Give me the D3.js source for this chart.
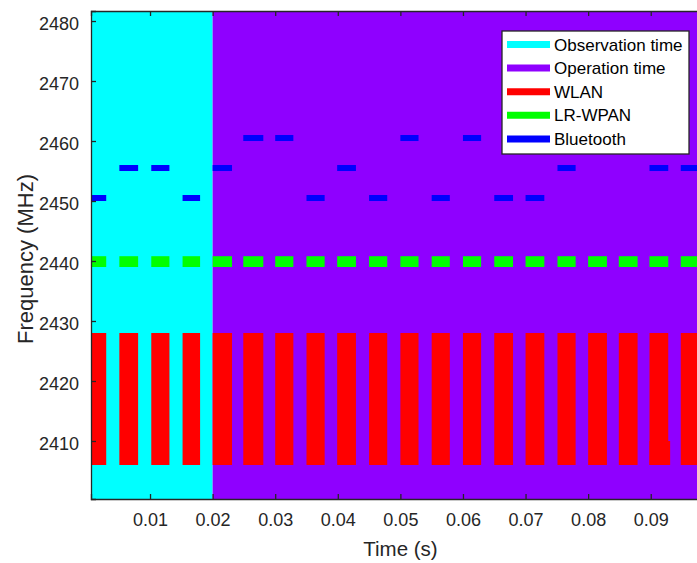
<!DOCTYPE html>
<html>
<head>
<meta charset="utf-8">
<script src="https://cdn.jsdelivr.net/npm/d3@7"></script>
<style>
  html, body { margin: 0; padding: 0; background: #fff; }
  svg { display: block; font-family: "Liberation Sans", Arial, Helvetica, sans-serif; }
</style>
</head>
<body>
<svg id="chart" width="697" height="563"></svg>
<script>
// Spectrum occupancy over time: observation / operation windows and packet bursts
const observationWindow = [0, 0.02];
const operationWindow = [0.02, 0.1];

// Packet slots shared by the WLAN and LR-WPAN bursts (s)
const slotStart = [0.0000, 0.0051, 0.0102, 0.0152, 0.0200, 0.0249, 0.0300, 0.0350, 0.0399, 0.0450,
                   0.0500, 0.0550, 0.0600, 0.0650, 0.0700, 0.0751, 0.0800, 0.0849, 0.0898, 0.0948];
const slotEnd   = [0.0030, 0.0081, 0.0131, 0.0180, 0.0231, 0.0281, 0.0329, 0.0379, 0.0429, 0.0479,
                   0.0529, 0.0579, 0.0629, 0.0680, 0.0730, 0.0780, 0.0830, 0.0879, 0.0928, 0.0980];

// Frequency bands (MHz)
const wlanBand = [2406, 2428];
const wpanBand = [2439, 2440.8];
// A short WLAN tail overlapping one burst
const wlanTailTime = [0.0898, 0.0931];
const wlanTailBand = [2406, 2410];

// Bluetooth hop channel (lower edge, MHz) per slot, 1 MHz wide
const btChannel = [2450, 2455, 2455, 2450, 2455, 2460, 2460, 2450, 2455, 2450,
                   2460, 2450, 2460, 2450, 2450, 2455, 2460, 2460, 2455, 2455];
const btWidth = 1;

const yTicks = [2410, 2420, 2430, 2440, 2450, 2460, 2470, 2480];
const xTicks = [0.01, 0.02, 0.03, 0.04, 0.05, 0.06, 0.07, 0.08, 0.09];

const legendLabels = ["Observation time", "Operation time", "WLAN", "LR-WPAN", "Bluetooth"];
const legendColors = ["#00ffff", "#8f00ff", "#ff0000", "#00ff00", "#0000ff"];

const axisColor = "#262626";
const [cObs, cOp, cWlan, cWpan, cBt] = legendColors;

const svg = d3.select("#chart");
const plot = { left: 91, right: 710, top: 11, bottom: 499 };

const x = d3.scaleLinear().domain([0.00057, 0.09947]).range([plot.left, plot.right]);
const y = d3.scaleLinear().domain([2400.33, 2481.67]).range([plot.bottom, plot.top]);

svg.append("defs").append("clipPath").attr("id", "plotClip")
  .append("rect")
  .attr("x", plot.left).attr("y", plot.top)
  .attr("width", plot.right - plot.left).attr("height", plot.bottom - plot.top);

const g = svg.append("g").attr("clip-path", "url(#plotClip)");

// Time windows spanning the full frequency range
const windows = [
  { t: observationWindow, color: cObs },
  { t: operationWindow, color: cOp }
];
g.selectAll("rect.window").data(windows).enter().append("rect")
  .attr("class", "window")
  .attr("x", d => x(d.t[0]))
  .attr("width", d => x(d.t[1]) - x(d.t[0]))
  .attr("y", y(y.domain()[1]))
  .attr("height", y(y.domain()[0]) - y(y.domain()[1]))
  .attr("fill", d => d.color);

const slots = slotStart.map((s, i) => ({ s, e: slotEnd[i], bt: btChannel[i] }));

// WLAN bursts
g.selectAll("rect.wlan").data(slots).enter().append("rect")
  .attr("class", "wlan")
  .attr("x", d => x(d.s))
  .attr("width", d => x(d.e) - x(d.s))
  .attr("y", y(wlanBand[1]))
  .attr("height", y(wlanBand[0]) - y(wlanBand[1]))
  .attr("fill", cWlan);

g.append("rect")
  .attr("x", x(wlanTailTime[0]))
  .attr("width", x(wlanTailTime[1]) - x(wlanTailTime[0]))
  .attr("y", y(wlanTailBand[1]))
  .attr("height", y(wlanTailBand[0]) - y(wlanTailBand[1]))
  .attr("fill", cWlan);

// LR-WPAN bursts
g.selectAll("rect.wpan").data(slots).enter().append("rect")
  .attr("class", "wpan")
  .attr("x", d => x(d.s))
  .attr("width", d => x(d.e) - x(d.s))
  .attr("y", y(wpanBand[1]))
  .attr("height", y(wpanBand[0]) - y(wpanBand[1]))
  .attr("fill", cWpan);

// Bluetooth hops
g.selectAll("rect.bt").data(slots).enter().append("rect")
  .attr("class", "bt")
  .attr("x", d => x(d.s))
  .attr("width", d => x(d.e) - x(d.s))
  .attr("y", d => y(d.bt + btWidth))
  .attr("height", d => y(d.bt) - y(d.bt + btWidth))
  .attr("fill", cBt);

// Axes (MATLAB-style: inward ticks, box on)
const tickLen = 5;
const yAxis = d3.axisLeft(y).tickValues(yTicks).tickSize(-tickLen).tickPadding(12).tickFormat(d3.format("d"));
const xAxis = d3.axisBottom(x).tickValues(xTicks).tickSize(-tickLen).tickPadding(14).tickFormat(d3.format(".2f"));
const xTop = d3.axisTop(x).tickValues(xTicks).tickSize(-tickLen).tickFormat("");

const gy = svg.append("g").attr("transform", `translate(${plot.left},0)`).call(yAxis);
const gx = svg.append("g").attr("transform", `translate(0,${plot.bottom})`).call(xAxis);
const gt = svg.append("g").attr("transform", `translate(0,${plot.top})`).call(xTop);

[gy, gx, gt].forEach(a => {
  a.select(".domain").attr("stroke", axisColor).attr("stroke-width", 1.3);
  a.selectAll(".tick line").attr("stroke", axisColor).attr("stroke-width", 1.3);
  a.selectAll(".tick text").attr("fill", axisColor).style("font-size", "18px")
    .style("font-family", "'Liberation Sans', Arial, Helvetica, sans-serif");
});
gy.selectAll(".tick text").attr("dy", "0.45em");
gx.selectAll(".tick text").attr("dy", "0.71em");

// Axis labels
svg.append("text")
  .attr("x", (plot.left + plot.right) / 2)
  .attr("y", 556)
  .attr("text-anchor", "middle")
  .attr("fill", axisColor)
  .style("font-size", "20.5px")
  .text("Time (s)");

svg.append("text")
  .attr("transform", `translate(33,259) rotate(-90)`)
  .attr("text-anchor", "middle")
  .attr("fill", axisColor)
  .style("font-size", "22px")
  .text("Frequency (MHz)");

// Legend
const leg = svg.append("g").attr("transform", "translate(502,31)");
leg.append("rect")
  .attr("width", 187).attr("height", 123)
  .attr("fill", "#fff").attr("stroke", axisColor).attr("stroke-width", 1.3);

const legItems = leg.selectAll("g.item")
  .data(legendLabels.map((label, i) => ({ label, color: legendColors[i] })))
  .enter().append("g")
  .attr("class", "item")
  .attr("transform", (d, i) => `translate(0,${13.5 + i * 23.6})`);

legItems.append("line")
  .attr("x1", 5).attr("x2", 48)
  .attr("stroke", d => d.color).attr("stroke-width", 7);

legItems.append("text")
  .attr("x", 52).attr("dy", "0.36em")
  .attr("fill", "#000")
  .style("font-size", "17px")
  .text(d => d.label);
</script>
</body>
</html>
